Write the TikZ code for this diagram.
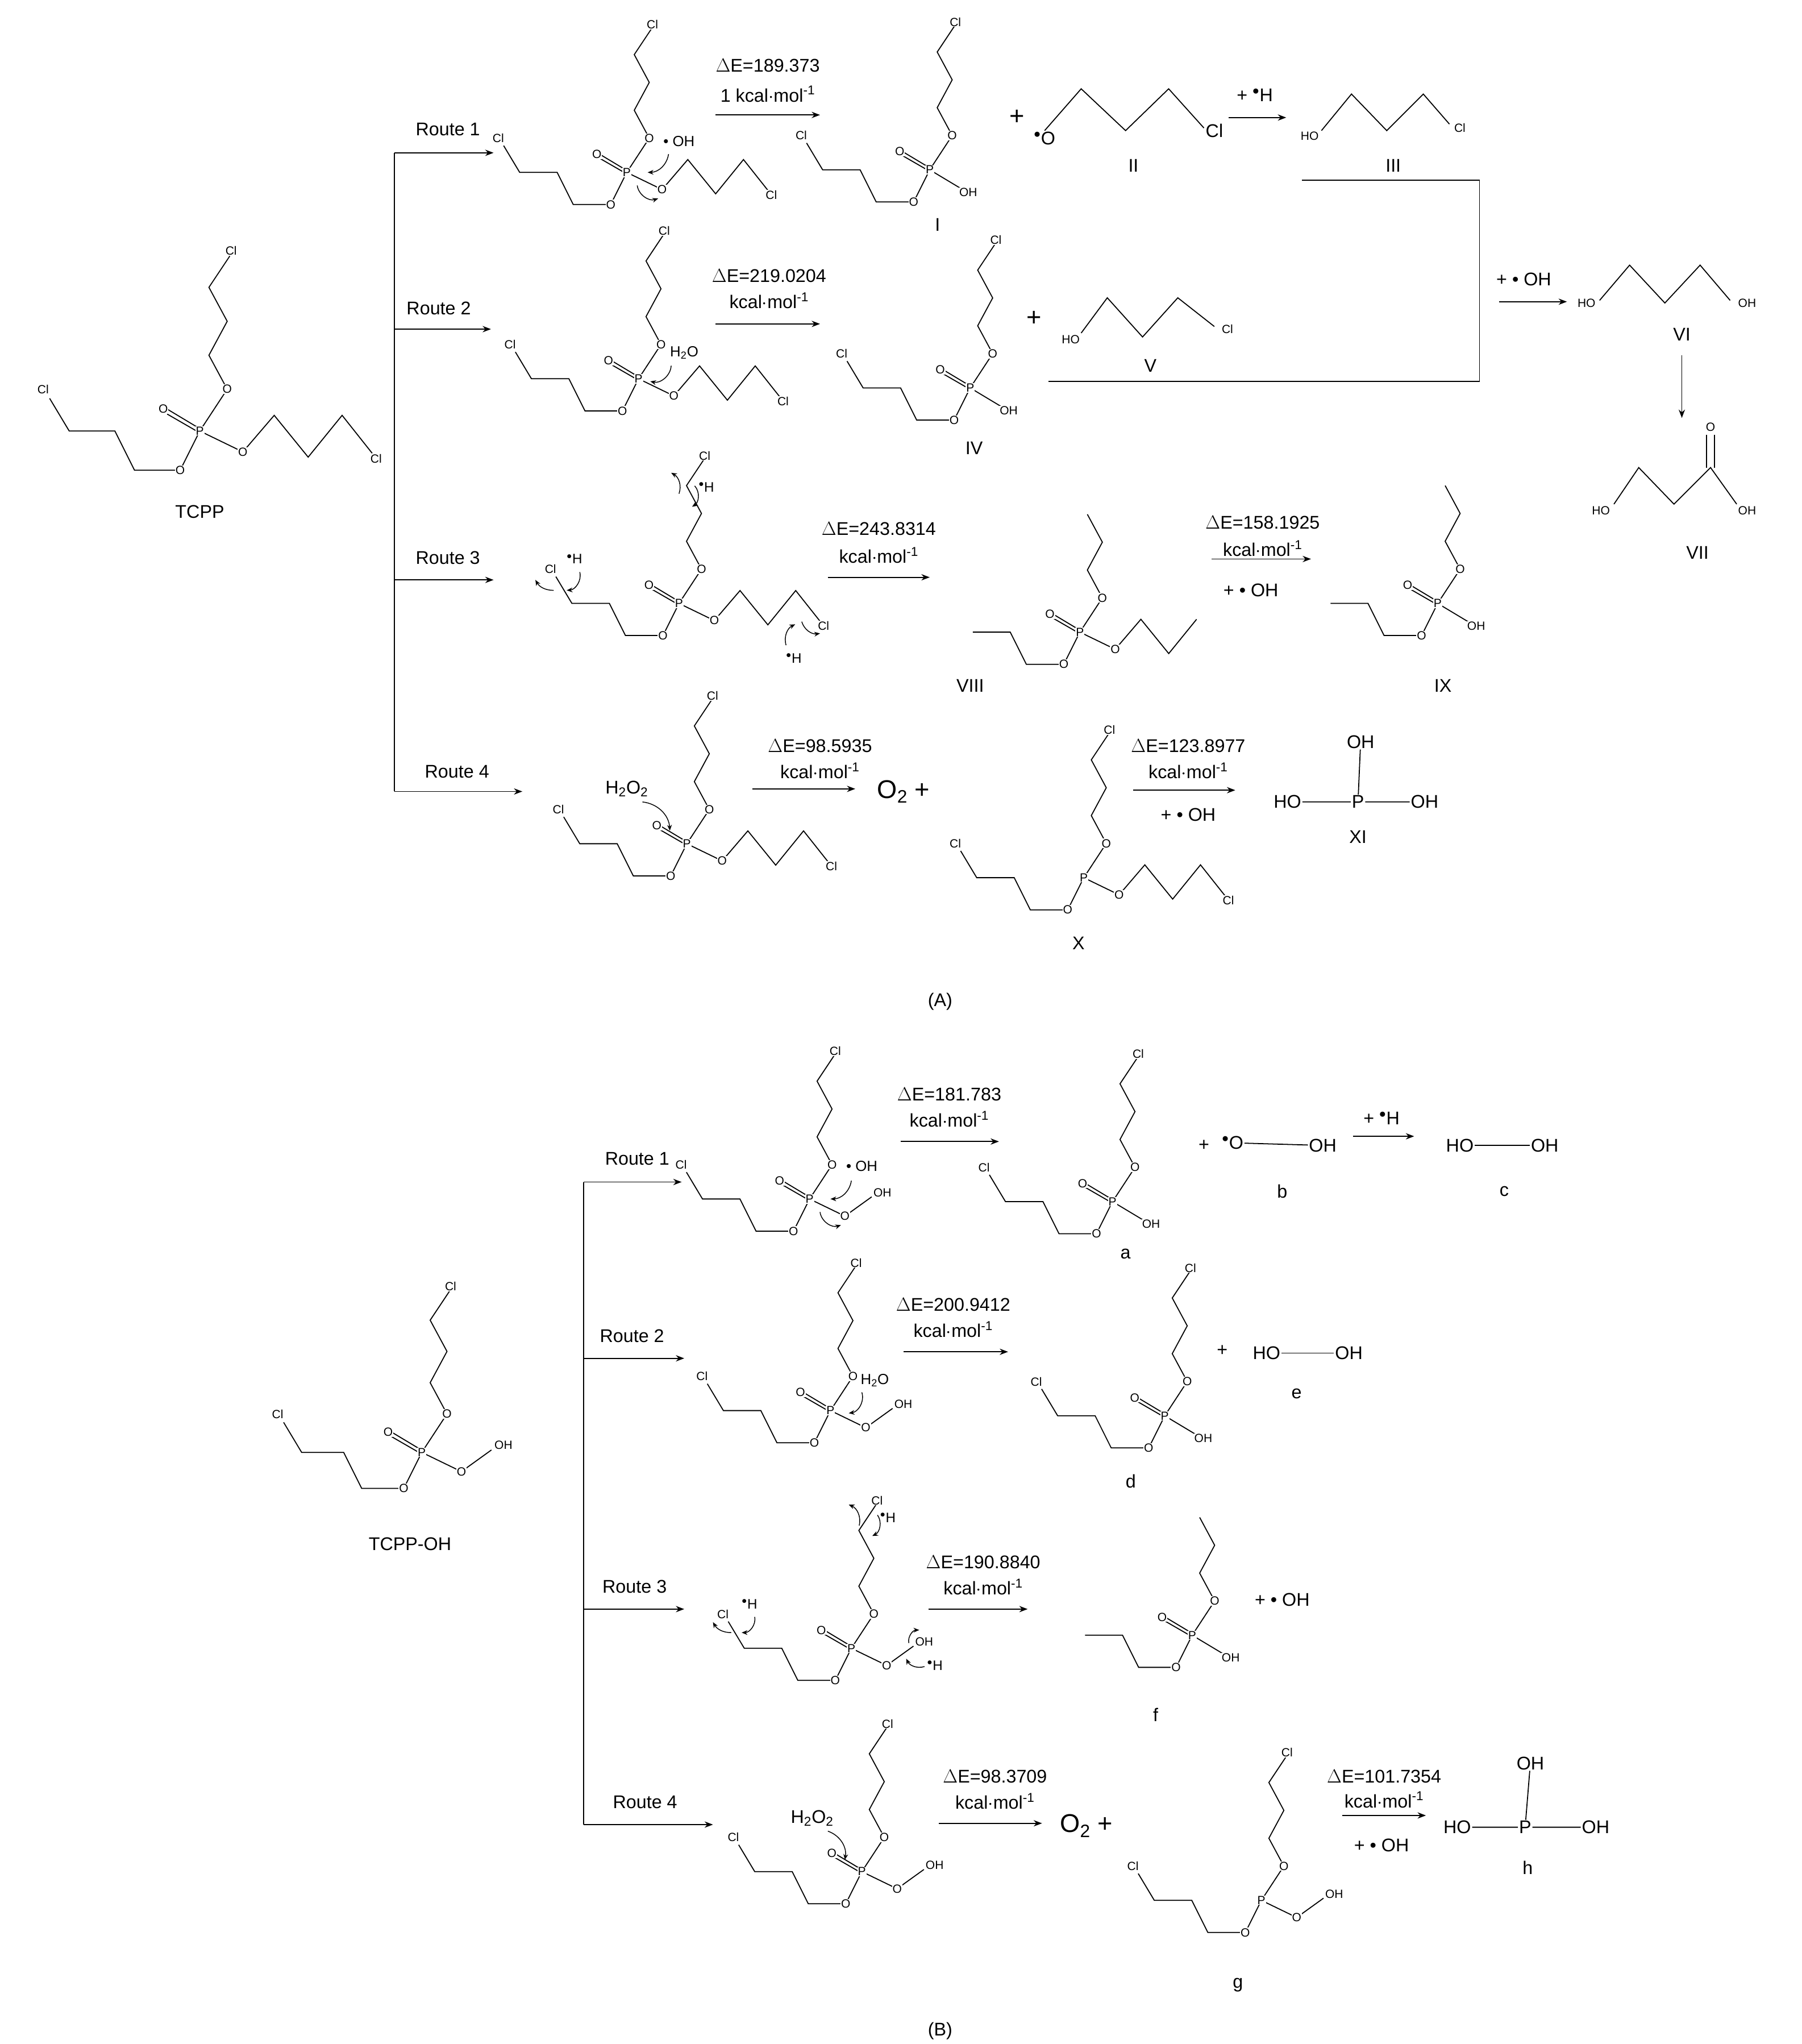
\documentclass[tikz,border=0pt]{standalone}
\usepackage{fontspec}
\setmainfont{Liberation Sans}
\usetikzlibrary{arrows.meta}
\tikzset{
 lab/.style={font=\fontsize{20}{22}\selectfont,inner sep=1pt},
 atom/.style={font=\fontsize{13}{13}\selectfont,fill=white,inner sep=0.6pt},
 big/.style={font=\fontsize{28}{29}\selectfont,inner sep=1pt},
 rarr/.style={-{Stealth[length=3.2mm,width=2.4mm]},line width=1.1pt},
 carr/.style={-{Stealth[length=2.2mm,width=1.8mm]},line width=0.9pt},
 bond/.style={line width=1.1pt},
}
\newcommand\Pbonds{\draw[bond] (0,0)--(21,-32) (0,0)--(-15,30);}
\newcommand\Pdbl{\draw[bond] (-2,-3)--(-27,-18) (1,2)--(-25,-13); \node[atom] at (-28,-17) {O};}
\newcommand\Pnodes{\node[atom] at (0,0) {P};\node[atom] at (21,-32) {O};\node[atom] at (-15,30) {O};}
\newcommand\armU{\draw[bond] (21,-32)--(7,-58)--(21,-84)--(7,-110)--(23,-134);\node[atom] at (24,-138) {Cl};}
\newcommand\armUp{\draw[bond] (21,-32)--(7,-58)--(21,-84)--(7,-110);}
\newcommand\armL{\draw[bond] (-15,30)--(-50,30)--(-65,0)--(-100,0)--(-115,-25);\node[atom] at (-120,-32) {Cl};}
\newcommand\armLp{\draw[bond] (-15,30)--(-50,30)--(-65,0)--(-100,0);}
\newcommand\armR{\draw[bond] (0,0)--(33,16)--(57,-12)--(83,20)--(109,-12)--(132,17);\node[atom] at (33,16) {O};\node[atom] at (135,21) {Cl};}
\newcommand\armRp{\draw[bond] (0,0)--(33,16)--(57,-12)--(83,20)--(109,-12);\node[atom] at (33,16) {O};}
\newcommand\OHr{\draw[bond] (0,0)--(30,18);\node[atom] at (36,21) {OH};}
\newcommand\OOH{\draw[bond] (0,0)--(33,16)--(58,-2);\node[atom] at (33,16) {O};\node[atom] at (68,-6) {OH};}
\newcommand\kcal{kcal$\cdot$mol\textsuperscript{-1}}
\begin{document}
\begin{tikzpicture}[x=0.05cm,y=-0.05cm]
\fill[white] (0,0) rectangle (1380,1565);
\useasboundingbox (0,0) rectangle (1380,1565);
% ================= (A) =================
\begin{scope}[shift={(153,330)}]\Pbonds\armU\armL\armR\Pdbl\Pnodes\end{scope}
\node[lab] (tcpp) at (153,392) {TCPP};
\coordinate (vtop) at (302,117); \coordinate (vbot) at (302,606);
\draw[line width=1.1pt] (vtop)--(vbot);
\coordinate (r1e) at (378,117);\coordinate (r2e) at (376,252);\coordinate (r3e) at (378,444);\coordinate (r4e) at (400,606);
\coordinate (r2s) at (302,252);\coordinate (r3s) at (302,444);
\draw[rarr] (vtop)--(r1e); \draw[rarr] (r2s)--(r2e); \draw[rarr] (r3s)--(r3e); \draw[rarr] (vbot)--(r4e);
\node[lab] (lr1) at (343,99) {Route 1};\node[lab] (lr2) at (336,236) {Route 2};
\node[lab] (lr3) at (343,427) {Route 3};\node[lab] (lr4) at (350,591) {Route 4};
% Route 1
\begin{scope}[shift={(480,132)},scale=.82]\Pbonds\armU\armL\armR\Pdbl\Pnodes\end{scope}
\node[lab,font=\fontsize{16}{16}\selectfont] (oh1) at (520,108) {• OH};
\draw[carr] (512,118) to[bend left=40] (496,132);
\draw[carr] (488,142) to[bend right=50] (504,152);
\coordinate (a1s) at (548,88);\coordinate (a1e) at (628,88);\draw[rarr] (a1s)--(a1e);
\node[lab] (e1) at (588,50) {$\Delta$E=189.373};\node[lab] (k1) at (588,72) {1 \kcal};
\begin{scope}[shift={(712,130)},scale=.82]\Pbonds\armU\armL\OHr\Pdbl\Pnodes\end{scope}
\node[lab] (nI) at (718,172) {I};
\node[big] (p1) at (779,90) {+};
\draw[bond] (800,100)--(828,68)--(862,100)--(895,68)--(922,98);
\node[lab,fill=white] (nO2) at (800,106) {$^\bullet$O};
\node[lab,fill=white] (cl2) at (930,100) {Cl};
\node[lab] (nII) at (868,127) {II};
\coordinate (h1s) at (941,90);\coordinate (h1e) at (985,90);\draw[rarr] (h1s)--(h1e);
\node[lab] (ph) at (961,73) {+ $^\bullet$H};
\draw[bond] (1012,100)--(1035,72)--(1062,100)--(1090,72)--(1110,95);
\node[atom] (ho3) at (1003,104) {HO};
\node[atom] (cl3) at (1118,98) {Cl};
\node[lab] (nIII) at (1067,127) {III};
\coordinate (b1) at (997,138);\coordinate (b2) at (1133,138);\coordinate (b3) at (1133,292);\coordinate (b4) at (803,292);
\draw[line width=1.1pt] (b1)--(b2)--(b3)--(b4);
% Route 2
\begin{scope}[shift={(489,290)},scale=.82]\Pbonds\armU\armL\armR\Pdbl\Pnodes\end{scope}
\node[lab,font=\fontsize{16}{16}\selectfont] (h2o) at (524,270) {H\textsubscript{2}O};
\draw[carr] (514,280) to[bend left=50] (498,292);
\coordinate (a2s) at (548,248);\coordinate (a2e) at (628,248);\draw[rarr] (a2s)--(a2e);
\node[lab] (e2) at (589,211) {$\Delta$E=219.0204};\node[lab] (k2) at (589,230) {\kcal};
\begin{scope}[shift={(743,297)},scale=.82]\Pbonds\armU\armL\OHr\Pdbl\Pnodes\end{scope}
\node[lab] (nIV) at (746,343) {IV};
\node[big] (p2) at (792,244) {+};
\draw[bond] (828,255)--(848,228)--(875,258)--(902,228)--(930,250);
\node[atom] (ho5) at (820,260) {HO};\node[atom] (cl5) at (940,252) {Cl};
\node[lab] (nV) at (881,280) {V};
\coordinate (a6s) at (1148,231);\coordinate (a6e) at (1200,231);\draw[rarr] (a6s)--(a6e);
\node[lab] (p6) at (1167,214) {+ • OH};
\draw[bond] (1225,230)--(1248,203)--(1275,232)--(1302,203)--(1325,230);
\node[atom] (ho6) at (1215,232) {HO};
\node[atom] (oh6) at (1338,232) {OH};
\node[lab] (nVI) at (1288,256) {VI};
\coordinate (a7s) at (1288,272);\coordinate (a7e) at (1288,320);\draw[rarr] (a7s)--(a7e);
\draw[bond] (1236,386)--(1255,358)--(1282,386)--(1310,358)--(1330,386);
\draw[bond] (1307,358)--(1307,333) (1313,358)--(1313,333);
\node[atom] (ho7) at (1226,391) {HO};
\node[atom] (o7) at (1310,327) {O};
\node[atom] (oh7) at (1338,391) {OH};
\node[lab] (nVII) at (1300,423) {VII};
% Route 3
\begin{scope}[shift={(520,462)},scale=.82]\Pbonds\armU\armL\armR\Pdbl\Pnodes\end{scope}
\node[lab,font=\fontsize{15}{15}\selectfont] (h3a) at (541,373) {$^\bullet$H};
\node[lab,font=\fontsize{15}{15}\selectfont] (h3b) at (440,428) {$^\bullet$H};
\node[lab,font=\fontsize{15}{15}\selectfont] (h3c) at (608,504) {$^\bullet$H};
\draw[carr] (532,372) to[bend left=50] (530,388);
\draw[carr] (520,378) to[bend right=40] (514,362);
\draw[carr] (444,438) to[bend left=50] (434,452);
\draw[carr] (424,452) to[bend left=30] (410,444);
\draw[carr] (602,494) to[bend left=40] (609,478);
\draw[carr] (614,476) to[bend right=40] (628,485);
\coordinate (a3s) at (634,442);\coordinate (a3e) at (712,442);\draw[rarr] (a3s)--(a3e);
\node[lab] (e3) at (673,405) {$\Delta$E=243.8314};\node[lab] (k3) at (673,425) {\kcal};
\begin{scope}[shift={(827,484)},scale=.82]\Pbonds\armUp\armLp\armRp\Pdbl\Pnodes\end{scope}
\node[lab] (nVIII) at (743,525) {VIII};
\coordinate (a8s) at (928,428);\coordinate (a8e) at (1004,428);\draw[rarr] (a8s)--(a8e);
\node[lab] (e8) at (967,400) {$\Delta$E=158.1925};\node[lab] (k8) at (967,420) {\kcal};
\node[lab] (p8) at (958,452) {+ • OH};
\begin{scope}[shift={(1101,462)},scale=.82]\Pbonds\armUp\armLp\OHr\Pdbl\Pnodes\end{scope}
\node[lab] (nIX) at (1105,525) {IX};
% Route 4
\begin{scope}[shift={(526,646)},scale=.82]\Pbonds\armU\armL\armR\Pdbl\Pnodes\end{scope}
\node[lab] (h2o2) at (480,604) {H\textsubscript{2}O\textsubscript{2}};
\draw[carr] (492,614) to[bend left=40] (513,636);
\coordinate (a4s) at (576,604);\coordinate (a4e) at (655,604);\draw[rarr] (a4s)--(a4e);
\node[lab] (e4) at (628,571) {$\Delta$E=98.5935};\node[lab] (k4) at (628,590) {\kcal};
\node[big] (o2a) at (692,606) {O\textsubscript{2} +};
\begin{scope}[shift={(830,672)},scale=.82]\Pbonds\armU\armL\armR\Pnodes\end{scope}
\node[lab] (nX) at (826,722) {X};
\coordinate (a5s) at (868,605);\coordinate (a5e) at (946,605);\draw[rarr] (a5s)--(a5e);
\node[lab] (e5) at (910,571) {$\Delta$E=123.8977};\node[lab] (k5) at (910,590) {\kcal};
\node[lab] (p5) at (910,624) {+ • OH};
\node[lab] (pXI) at (1040,614) {P};
\node[lab] (hoXI) at (986,614) {HO};\node[lab] (ohXI) at (1091,614) {OH};\node[lab] (otXI) at (1042,568) {OH};
\draw[bond] (hoXI)--(pXI) (pXI)--(ohXI) (pXI)--(otXI);
\node[lab] (nXI) at (1040,641) {XI};
\node[lab] (A) at (720,767) {(A)};
% ================= (B) =================
\begin{scope}[shift={(323,1112)},scale=.92]\Pbonds\armU\armL\OOH\Pdbl\Pnodes\end{scope}
\node[lab] (tcppoh) at (314,1182) {TCPP-OH};
\coordinate (wtop) at (447,905); \coordinate (wbot) at (447,1397);
\draw[line width=1.1pt] (wtop)--(wbot);
\coordinate (s2) at (447,1040);\coordinate (s3) at (447,1232);
\coordinate (q1) at (522,905);\coordinate (q2) at (524,1040);\coordinate (q3) at (524,1232);\coordinate (q4) at (546,1397);
\draw[rarr] (wtop)--(q1);\draw[rarr] (s2)--(q2);\draw[rarr] (s3)--(q3);\draw[rarr] (wbot)--(q4);
\node[lab] (m1) at (488,887) {Route 1};\node[lab] (m2) at (484,1023) {Route 2};
\node[lab] (m3) at (486,1215) {Route 3};\node[lab] (m4) at (494,1380) {Route 4};
% B1
\begin{scope}[shift={(620,918)},scale=.82]\Pbonds\armU\armL\OOH\Pdbl\Pnodes\end{scope}
\node[lab,font=\fontsize{16}{16}\selectfont] (ohb1) at (660,893) {• OH};
\draw[carr] (652,904) to[bend left=40] (636,918);
\draw[carr] (628,928) to[bend right=50] (644,938);
\coordinate (c1s) at (690,874);\coordinate (c1e) at (765,874);\draw[rarr] (c1s)--(c1e);
\node[lab] (f1) at (727,838) {$\Delta$E=181.783};\node[lab] (g1) at (727,857) {\kcal};
\begin{scope}[shift={(852,920)},scale=.82]\Pbonds\armU\armL\OHr\Pdbl\Pnodes\end{scope}
\node[lab] (na) at (862,960) {a};
\node[lab] (pb) at (922,877) {+};
\node[lab] (ob) at (944,875) {$^\bullet$O};\node[lab] (ohb) at (1013,877) {OH};
\draw[bond] (ob)--(ohb);
\node[lab] (nb) at (982,912) {b};
\coordinate (c2s) at (1036,870);\coordinate (c2e) at (1083,870);\draw[rarr] (c2s)--(c2e);
\node[lab] (phb) at (1058,856) {+ $^\bullet$H};
\node[lab] (hoc) at (1118,877) {HO};\node[lab] (ohc) at (1183,877) {OH};\draw[bond] (hoc)--(ohc);
\node[lab] (nc) at (1152,912) {c};
% B2
\begin{scope}[shift={(636,1080)},scale=.82]\Pbonds\armU\armL\OOH\Pdbl\Pnodes\end{scope}
\node[lab,font=\fontsize{16}{16}\selectfont] (h2ob) at (670,1057) {H\textsubscript{2}O};
\draw[carr] (660,1066) to[bend left=50] (650,1082);
\coordinate (c3s) at (692,1035);\coordinate (c3e) at (772,1035);\draw[rarr] (c3s)--(c3e);
\node[lab] (f2) at (730,999) {$\Delta$E=200.9412};\node[lab] (g2) at (730,1018) {\kcal};
\begin{scope}[shift={(892,1084)},scale=.82]\Pbonds\armU\armL\OHr\Pdbl\Pnodes\end{scope}
\node[lab] (nd) at (866,1134) {d};
\node[lab] (pe) at (936,1034) {+};
\node[lab] (hoe) at (970,1036) {HO};\node[lab] (ohe) at (1033,1036) {OH};\draw[bond] (hoe)--(ohe);
\node[lab] (ne) at (993,1067) {e};
% B3
\begin{scope}[shift={(652,1262)},scale=.82]\Pbonds\armU\armL\OOH\Pdbl\Pnodes\end{scope}
\node[lab,font=\fontsize{15}{15}\selectfont] (hb3a) at (680,1162) {$^\bullet$H};
\node[lab,font=\fontsize{15}{15}\selectfont] (hb3b) at (574,1228) {$^\bullet$H};
\node[lab,font=\fontsize{15}{15}\selectfont] (hb3c) at (716,1275) {$^\bullet$H};
\draw[carr] (672,1160) to[bend left=50] (668,1176);
\draw[carr] (658,1168) to[bend right=40] (650,1152);
\draw[carr] (578,1238) to[bend left=50] (568,1250);
\draw[carr] (560,1250) to[bend left=30] (546,1242);
\draw[carr] (708,1276) to[bend left=40] (694,1270);
\draw[carr] (696,1258) to[bend left=50] (704,1248);
\coordinate (c4s) at (711,1232);\coordinate (c4e) at (787,1232);\draw[rarr] (c4s)--(c4e);
\node[lab] (f3) at (753,1196) {$\Delta$E=190.8840};\node[lab] (g3) at (753,1215) {\kcal};
\begin{scope}[shift={(913,1252)},scale=.82]\Pbonds\armUp\armLp\OHr\Pdbl\Pnodes\end{scope}
\node[lab] (nf) at (885,1313) {f};
\node[lab] (pf) at (982,1225) {+ • OH};
% B4
\begin{scope}[shift={(660,1433)},scale=.82]\Pbonds\armU\armL\OOH\Pdbl\Pnodes\end{scope}
\node[lab] (h2o2b) at (622,1392) {H\textsubscript{2}O\textsubscript{2}};
\draw[carr] (634,1402) to[bend left=40] (647,1424);
\coordinate (c5s) at (719,1396);\coordinate (c5e) at (798,1396);\draw[rarr] (c5s)--(c5e);
\node[lab] (f4) at (762,1360) {$\Delta$E=98.3709};\node[lab] (g4) at (762,1379) {\kcal};
\node[big] (o2b) at (832,1398) {O\textsubscript{2} +};
\begin{scope}[shift={(966,1455)},scale=.82]\Pbonds\armU\armL\OOH\Pnodes\end{scope}
\node[lab] (ng) at (948,1520) {g};
\coordinate (c6s) at (1028,1390);\coordinate (c6e) at (1092,1390);\draw[rarr] (c6s)--(c6e);
\node[lab] (f5) at (1060,1360) {$\Delta$E=101.7354};\node[lab] (g5) at (1060,1378) {\kcal};
\node[lab] (p6b) at (1058,1413) {+ • OH};
\node[lab] (ph2) at (1168,1399) {P};
\node[lab] (hoh) at (1116,1399) {HO};\node[lab] (ohh) at (1222,1399) {OH};\node[lab] (oth) at (1172,1350) {OH};
\draw[bond] (hoh)--(ph2) (ph2)--(ohh) (ph2)--(oth);
\node[lab] (nh) at (1170,1430) {h};
\node[lab] (B) at (720,1555) {(B)};
\end{tikzpicture}
\end{document}
